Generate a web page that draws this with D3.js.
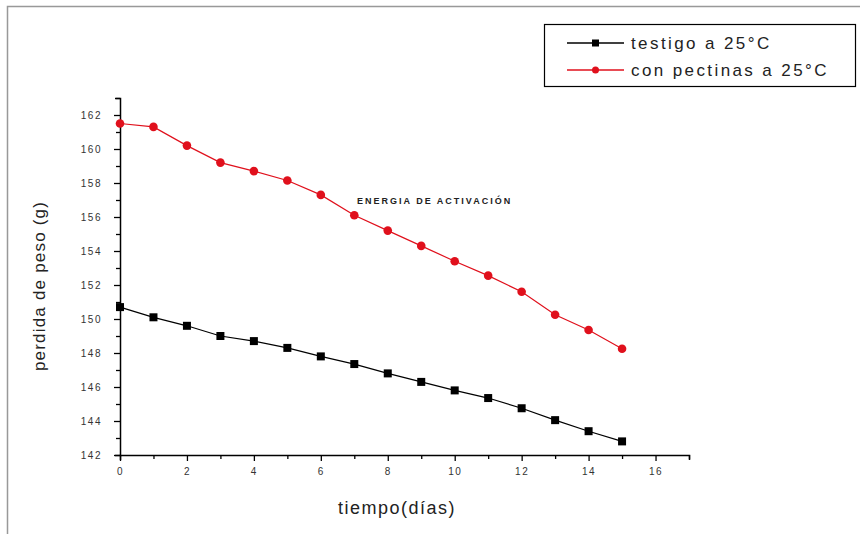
<!DOCTYPE html>
<html>
<head>
<meta charset="utf-8">
<title>perdida de peso</title>
<script src="https://cdn.jsdelivr.net/npm/d3@7"></script>
<style>
  body{ margin:0; background:#fff; font-family:"Liberation Sans", Arial, sans-serif; }
  .tick text{ font-size:10px; fill:#333; letter-spacing:1.5px; }
</style>
</head>
<body>
<div id="chart"></div>
<script>
  var dias = [0,1,2,3,4,5,6,7,8,9,10,11,12,13,14,15]
  var testigo = [150.7,150.1,149.6,149.0,148.7,148.3,147.8,147.35,146.8,146.3,145.8,145.35,144.75,144.05,143.4,142.8]
  var pectinas = [161.5,161.3,160.2,159.2,158.7,158.15,157.3,156.1,155.2,154.3,153.4,152.55,151.6,150.25,149.35,148.25]
  var xTicks = [0,2,4,6,8,10,12,14,16]
  var yTicks = [142,144,146,148,150,152,154,156,158,160,162]
  var series = [
    {name:"testigo a 25°C", values:testigo, color:"#000", shape:"square"},
    {name:"con pectinas a 25°C", values:pectinas, color:"#e0101c", shape:"circle"}
  ]

  var W = 860, H = 534
  var svg = d3.select("#chart").append("svg").attr("width",W).attr("height",H)

  // outer frame (only top and left edges visible)
  svg.append("path").attr("d","M7.5,534 V6.5 H860").attr("fill","none").attr("stroke","#999").attr("stroke-width",1.5)

  var x = d3.scaleLinear().domain([0,17]).range([120,689])
  var y = d3.scaleLinear().domain([142,163]).range([455,98])

  var xAxis = d3.axisBottom(x).tickValues(d3.range(0,18)).tickSize(5)
      .tickFormat(function(d){ return xTicks.indexOf(d)>=0 ? d : "" })
  var gx = svg.append("g").attr("transform","translate(0,455)").call(xAxis)
  gx.selectAll(".tick line").attr("y2",function(d){ return xTicks.indexOf(d)>=0 ? 6 : 4 })
  gx.selectAll(".tick text").attr("dy","1.2em")

  var yAxis = d3.axisLeft(y).tickValues(d3.range(142,164)).tickSize(5)
      .tickFormat(function(d){ return yTicks.indexOf(d)>=0 ? d : "" })
  var gy = svg.append("g").attr("transform","translate(120,0)").call(yAxis)
  gy.selectAll(".tick line").attr("x2",function(d){ return yTicks.indexOf(d)>=0 ? -6 : -4 })
  gy.selectAll(".tick text").attr("x",-18)

  svg.selectAll(".domain").attr("stroke","#000").attr("stroke-width",1.5)
  svg.selectAll(".tick line").attr("stroke","#000").attr("stroke-width",1.3)

  var line = d3.line().x(function(d,i){ return x(dias[i]) }).y(function(d){ return y(d) })

  series.forEach(function(s){
    svg.append("path").attr("d",line(s.values)).attr("fill","none")
      .attr("stroke",s.color).attr("stroke-width",1.2)
    var pts = svg.append("g").selectAll("g").data(s.values).enter()
    if(s.shape=="square"){
      pts.append("rect").attr("x",function(d,i){ return x(dias[i])-4 })
        .attr("y",function(d){ return y(d)-4 }).attr("width",8).attr("height",8).attr("fill",s.color)
    } else {
      pts.append("circle").attr("cx",function(d,i){ return x(dias[i]) })
        .attr("cy",function(d){ return y(d) }).attr("r",4.3).attr("fill",s.color)
    }
  })

  // axis titles
  svg.append("text").attr("x",397).attr("y",514).attr("text-anchor","middle")
    .attr("font-size",18).attr("fill","#222").attr("letter-spacing",1.5).text("tiempo(días)")
  svg.append("text").attr("transform","translate(45,286) rotate(-90)").attr("text-anchor","middle")
    .attr("font-size",17).attr("fill","#222").attr("letter-spacing",1.2).text("perdida de peso (g)")

  // annotation
  svg.append("text").attr("x",357).attr("y",204).attr("font-size",9).attr("font-weight","bold")
    .attr("fill","#222").attr("letter-spacing",2).text("ENERGIA DE ACTIVACIÓN")

  // legend
  var lg = svg.append("g")
  lg.append("rect").attr("x",544.5).attr("y",24.5).attr("width",311).attr("height",62)
    .attr("fill","#fff").attr("stroke","#000").attr("stroke-width",1.2)
  series.forEach(function(s,i){
    var ly = 43 + i*27
    lg.append("line").attr("x1",567).attr("x2",624).attr("y1",ly).attr("y2",ly)
      .attr("stroke",s.color).attr("stroke-width",1.3)
    if(s.shape=="square"){
      lg.append("rect").attr("x",592).attr("y",ly-3.5).attr("width",7).attr("height",7).attr("fill",s.color)
    } else {
      lg.append("circle").attr("cx",595.5).attr("cy",ly).attr("r",3.5).attr("fill",s.color)
    }
    lg.append("text").attr("x",631).attr("y",ly+6).attr("font-size",17).attr("fill","#222")
      .attr("letter-spacing",2.4).text(s.name)
  })
</script>
</body>
</html>
